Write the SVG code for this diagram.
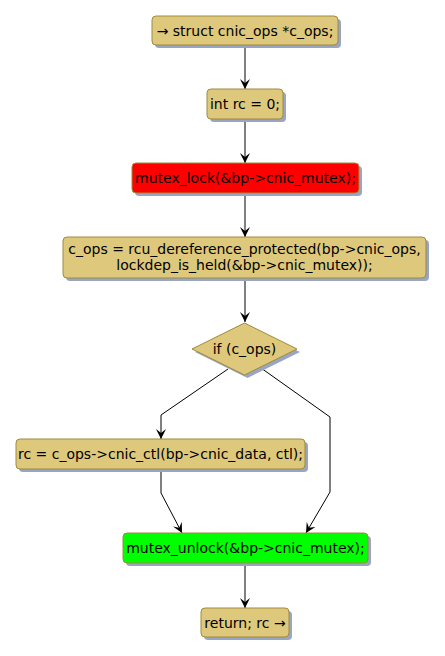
<svg xmlns="http://www.w3.org/2000/svg" width="445" height="656" viewBox="0 0 445 656">
<defs>
<style>
.n{fill:#DDC87C;stroke:#A08A3C;stroke-width:1}
.sh{fill:#98A6C4;stroke:none}
.t{font-family:"DejaVu Sans",sans-serif;font-size:14px;fill:#000;text-anchor:middle}
.c{fill:none;stroke:#000;stroke-width:1}
</style>
<marker id="ah" viewBox="0 0 10 10" refX="10" refY="5" markerWidth="10" markerHeight="10" markerUnits="userSpaceOnUse" orient="auto">
<path d="M0,0 L10,5 L0,10 L4,5 Z" fill="#000"/>
</marker>
</defs>
<rect width="445" height="656" fill="#fff"/>
<g id="connectors">
<path class="c" d="M245,45 V89" marker-end="url(#ah)"/>
<path class="c" d="M245,119 V163" marker-end="url(#ah)"/>
<path class="c" d="M245,193 V237" marker-end="url(#ah)"/>
<path class="c" d="M245,278 V322" marker-end="url(#ah)"/>
<path class="c" d="M228,369 L161,415 V439" marker-end="url(#ah)"/>
<path class="c" d="M261,368 L330,417 V492 L306,533" marker-end="url(#ah)"/>
<path class="c" d="M161,469 V493 L182,533" marker-end="url(#ah)"/>
<path class="c" d="M245,563 V608" marker-end="url(#ah)"/>
</g>
<g id="n1">
<rect class="sh" x="155" y="19" width="186" height="29" rx="4"/>
<rect class="n" x="152" y="16" width="186" height="29" rx="4"/>
<text class="t" x="245" y="35.5">→ struct cnic_ops *c_ops;</text>
</g>
<g id="n2">
<rect class="sh" x="210" y="92" width="76" height="30" rx="4"/>
<rect class="n" x="207" y="89" width="76" height="30" rx="4"/>
<text class="t" x="245" y="109">int rc = 0;</text>
</g>
<g id="n3">
<rect class="sh" x="135" y="166" width="227" height="30" rx="4"/>
<rect class="n" x="132" y="163" width="227" height="30" rx="4" style="fill:#FF0000"/>
<text class="t" x="245.5" y="183">mutex_lock(&amp;bp-&gt;cnic_mutex);</text>
</g>
<g id="n4">
<rect class="sh" x="66" y="240" width="363" height="41" rx="4"/>
<rect class="n" x="63" y="237" width="363" height="41" rx="4"/>
<text class="t" x="244.5" y="254">c_ops = rcu_dereference_protected(bp-&gt;cnic_ops,</text>
<text class="t" x="244.5" y="270">lockdep_is_held(&amp;bp-&gt;cnic_mutex));</text>
</g>
<g id="n5">
<path class="sh" d="M195,352 L247.5,326 L300,352 L247.5,378 Z"/>
<path class="n" d="M192,349 L244.5,323 L297,349 L244.5,375 Z"/>
<text class="t" x="244.5" y="354">if (c_ops)</text>
</g>
<g id="n6">
<rect class="sh" x="19" y="442" width="289" height="30" rx="4"/>
<rect class="n" x="16" y="439" width="289" height="30" rx="4"/>
<text class="t" x="160.5" y="459">rc = c_ops-&gt;cnic_ctl(bp-&gt;cnic_data, ctl);</text>
</g>
<g id="n7">
<rect class="sh" x="126" y="536" width="245" height="30" rx="4"/>
<rect class="n" x="123" y="533" width="245" height="30" rx="4" style="fill:#00FF00"/>
<text class="t" x="245.5" y="553">mutex_unlock(&amp;bp-&gt;cnic_mutex);</text>
</g>
<g id="n8">
<rect class="sh" x="204" y="611" width="88" height="29" rx="4"/>
<rect class="n" x="201" y="608" width="88" height="29" rx="4"/>
<text class="t" x="245" y="627.5">return; rc →</text>
</g>
</svg>
